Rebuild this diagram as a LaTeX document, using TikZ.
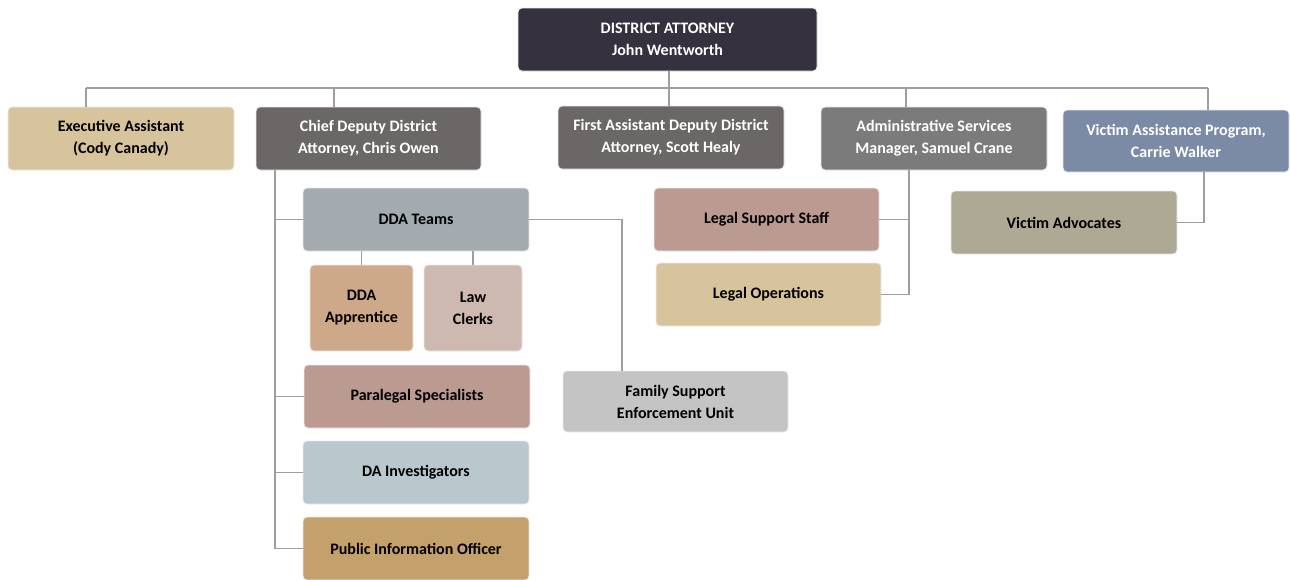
\documentclass[tikz,border=0pt]{standalone}
\usepackage{fontspec}
\setmainfont{Carlito}
\begin{document}
\begin{tikzpicture}[x=1pt,y=-1pt,
  box/.style={rectangle, rounded corners=4pt, draw=black!8, line width=0.8pt,
    align=center, font=\bfseries\fontsize{16}{22}\selectfont, inner sep=0pt},
  bx/.style 2 args={minimum width=#1, minimum height=#2},
  wt/.style={text=white},
  link/.style={draw=black!38, line width=1.1pt}]
\definecolor{cDA}{HTML}{35313F}
\definecolor{cSand}{HTML}{D8C49C}
\definecolor{cDark}{HTML}{6B6766}
\definecolor{cAdm}{HTML}{7B7B7B}
\definecolor{cVic}{HTML}{7B8AA5}
\definecolor{cTeam}{HTML}{A3AAB0}
\definecolor{cFam}{HTML}{C4C4C4}
\definecolor{cAppr}{HTML}{CDA98A}
\definecolor{cClerk}{HTML}{CDB9AF}
\definecolor{cRose}{HTML}{BA9A91}
\definecolor{cInv}{HTML}{B9C8CD}
\definecolor{cPio}{HTML}{C4A06A}
\definecolor{cAdv}{HTML}{ADA995}
\useasboundingbox (0,0) rectangle (1290,579);

% top level
\node[box, bx={299}{63}, fill=cDA, wt] (da) at (667.5,39.5) {DISTRICT ATTORNEY\\John Wentworth};

% second row
\node[box, bx={226}{63}, fill=cSand] (ea) at (121,138.5) {Executive Assistant\\(Cody Canady)};
\node[box, bx={225}{63}, fill=cDark, wt] (cd) at (368.5,138.5) {Chief Deputy District\\Attorney, Chris Owen};
\node[box, bx={226}{63}, fill=cDark, wt] (fa) at (671,137.5) {First Assistant Deputy District\\Attorney, Scott Healy};
\node[box, bx={226}{63}, fill=cAdm, wt] (as) at (934,138.5) {Administrative Services\\Manager, Samuel Crane};
\node[box, bx={226}{62}, fill=cVic, wt] (vap) at (1176,141) {Victim Assistance Program,\\Carrie Walker};

% under the chief deputy
\node[box, bx={226}{63}, fill=cTeam] (dda) at (416,219.5) {DDA Teams};
\node[box, bx={103}{86}, fill=cAppr] (app) at (361.5,308) {DDA\\Apprentice};
\node[box, bx={98}{86}, fill=cClerk] (lc) at (473,308) {Law\\Clerks};
\node[box, bx={226}{63}, fill=cRose] (para) at (417,396.5) {Paralegal Specialists};
\node[box, bx={226}{63}, fill=cInv] (inv) at (416,472.5) {DA Investigators};
\node[box, bx={226}{63}, fill=cPio] (pio) at (416,548.5) {Public Information Officer};
\node[box, bx={225}{61}, fill=cFam] (fs) at (675.5,401.5) {Family Support\\Enforcement Unit};

% under administrative services
\node[box, bx={225}{63}, fill=cRose] (lss) at (766.5,219.5) {Legal Support Staff};
\node[box, bx={225}{63}, fill=cSand] (lo) at (768.5,294.5) {Legal Operations};

% under victim assistance
\node[box, bx={226}{63}, fill=cAdv] (adv) at (1064,222.5) {Victim Advocates};

% junction points
\coordinate (bus) at (0,88);
\coordinate (xea) at (86,0);
\coordinate (xcd) at (334,0);
\coordinate (xda) at (669,0);
\coordinate (xas) at (906,0);
\coordinate (xvap) at (1208,0);
\coordinate (ct) at (275,0);
\coordinate (fj) at (622,0);
\coordinate (at) at (909,0);
\coordinate (vt) at (1204,0);

% top bus
\draw[link] (xea |- bus) -- (xvap |- bus);
\draw[link] (da.south -| xda) -- (fa.north -| xda);
\draw[link] (ea.north -| xea) -- (xea |- bus);
\draw[link] (cd.north -| xcd) -- (xcd |- bus);
\draw[link] (as.north -| xas) -- (xas |- bus);
\draw[link] (vap.north -| xvap) -- (xvap |- bus);

% chief deputy trunk
\draw[link] (cd.south -| ct) |- (pio.west);
\draw[link] (ct |- dda.west) -- (dda.west);
\draw[link] (ct |- para.west) -- (para.west);
\draw[link] (ct |- inv.west) -- (inv.west);
\draw[link] (dda.east) -| (fs.north -| fj);
\draw[link] (app.north) -- (app.north |- dda.south);
\draw[link] (lc.north) -- (lc.north |- dda.south);

% administrative services trunk
\draw[link] (as.south -| at) |- (lo.east);
\draw[link] (at |- lss.east) -- (lss.east);

% victim assistance
\draw[link] (vap.south -| vt) |- (adv.east);
\end{tikzpicture}
\end{document}
